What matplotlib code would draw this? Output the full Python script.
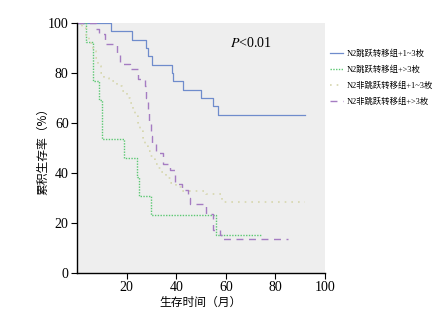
import numpy as np
import matplotlib
matplotlib.use("Agg")
import matplotlib.pyplot as plt

plt.rcParams['font.family'] = ['Liberation Serif', 'Noto Sans CJK SC']
plt.rcParams['mathtext.fontset'] = 'stix'

# survival curves (months, %)
blue_t = [0, 13.7, 22, 27.7, 28.8, 30.1, 38.2, 38.8, 42.9, 49.9, 55, 57, 92]
blue_s = [100, 96.7, 93.3, 90, 86.7, 83.3, 80, 76.7, 73.3, 70, 66.7, 63.3, 63.3]

green_t = [0, 3.6, 6.3, 8.9, 10.1, 19, 24.1, 25, 29.8, 55.9, 74.2]
green_s = [100, 92.3, 76.9, 69.2, 53.8, 46.2, 38.5, 30.8, 23.1, 15.4, 15.4]

yellow_t = [0, 2, 3.5, 5, 6.5, 7.5, 8.5, 9.5, 11, 13, 16, 18, 20, 21.5, 22.5, 23.5,
            24.5, 25.5, 26.5, 27.5, 28.5, 29.5, 30.5, 31.5, 32.5, 34, 36, 38, 40, 42,
            52, 58.5, 92]
yellow_s = [100, 98, 95, 92, 89, 86, 83, 80, 78, 77, 75, 73, 70, 68, 65, 63,
            60, 57, 54, 51, 49, 47, 45.5, 43.5, 42, 40.5, 38, 36, 34.5, 33,
            31.5, 28.5, 28.5]

purple_t = [0, 7.7, 9, 11.3, 16, 17.3, 21.4, 24.6, 27.4, 28, 28.5, 29, 29.7, 30.2,
            31.9, 34.8, 37.5, 39.5, 42.2, 44.9, 45.6, 52, 55, 57.7, 59, 85.2]
purple_s = [100, 97.6, 95.5, 91.5, 88, 83.5, 81.6, 77.5, 75, 70, 65, 60, 55, 51.5,
            47.9, 43.6, 41.2, 35.6, 33.2, 30, 27.5, 23.6, 17.2, 15.2, 13.5, 13.5]

labels = ['N2跳跃转移组+1~3枚', 'N2跳跃转移组+>3枚', 'N2非跳跃转移组+1~3枚', 'N2非跳跃转移组+>3枚']

fig = plt.figure(figsize=(4.41, 3.11), dpi=100)
ax = fig.add_axes([77/441, 1-273/311, 248/441, 250/311])
ax.set_facecolor('#eeeeee')

ax.step(blue_t, blue_s, where='post', color='#6f8ccc', lw=0.9, label=labels[0])
ax.step(green_t, green_s, where='post', color='#5cc873', lw=1.0, ls=(0, (1, 1)), label=labels[1])
ax.step(yellow_t, yellow_s, where='post', color='#d6d6ae', lw=1.2, ls=(0, (1, 3)), label=labels[2])
ax.step(purple_t, purple_s, where='post', color='#a57cc2', lw=1.0, ls=(0, (5, 4)), label=labels[3])

ax.set_xlim(0, 100)
ax.set_ylim(0, 100)
ax.set_xticks([20, 40, 60, 80, 100])
ax.set_yticks([0, 20, 40, 60, 80, 100])
ax.tick_params(direction='out', length=4, width=0.8, labelsize=10, pad=2)
for s in ['top', 'right']:
    ax.spines[s].set_visible(False)
for s in ['left', 'bottom']:
    ax.spines[s].set_linewidth(1.0)

ax.set_xlabel('生存时间（月）', fontsize=8.5, family=['Noto Sans CJK SC'], labelpad=1)
ax.set_ylabel('累积生存率（%）', fontsize=8.5, family=['Noto Sans CJK SC'], labelpad=-1)
ax.text(0.70, 0.92, r'$P$<0.01', transform=ax.transAxes, fontsize=10,
        ha='center', va='center')

fig.legend(loc='upper left', bbox_to_anchor=(322/441, 1-42/311), frameon=False,
           handlelength=1.6, handletextpad=0.5, labelspacing=0.9,
           prop={'family': ['Liberation Serif', 'Noto Sans CJK SC'], 'size': 6})

fig.savefig('out.png', dpi=100)
